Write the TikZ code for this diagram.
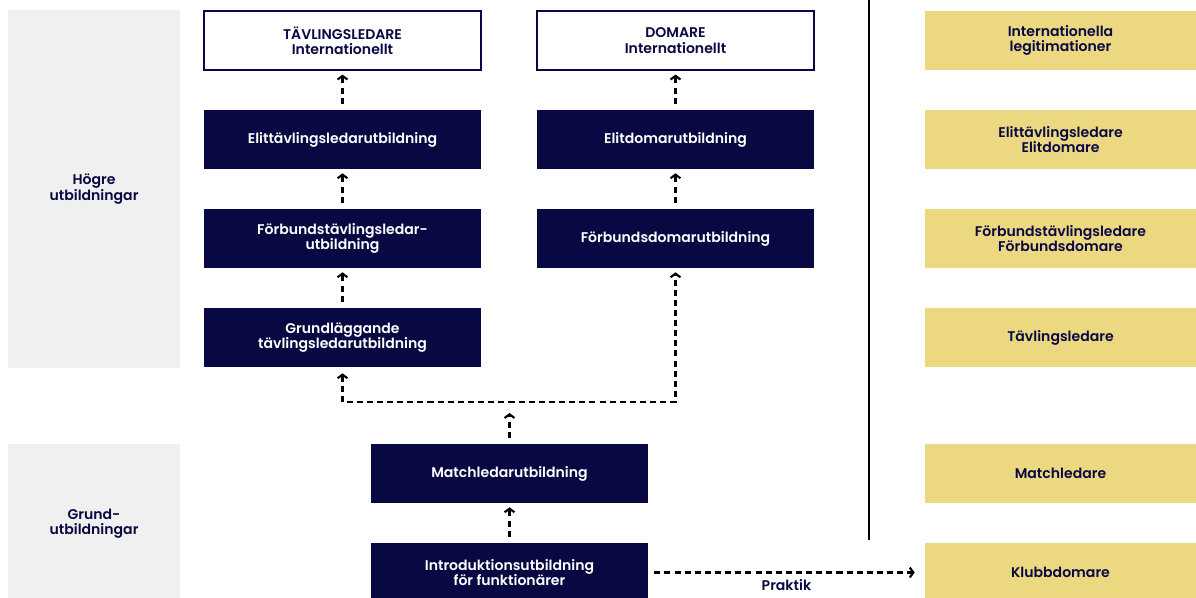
\documentclass[tikz,border=0pt]{standalone}
\usepackage{fontspec}
\setmainfont{Poppins}[BoldFont={Poppins SemiBold}]
\usetikzlibrary{arrows.meta}
\definecolor{navy}{RGB}{8,9,66}
\definecolor{sand}{RGB}{236,216,128}
\definecolor{panel}{RGB}{240,240,240}

\begin{document}
\begin{tikzpicture}
    \tikzset{
      every node/.style={font=\bfseries\fontsize{10}{10.8}\selectfont, align=center},
      course/.style={rectangle, fill=navy, text=white, minimum width=6.925cm, minimum height=1.475cm, node distance=2.475cm},
      goal/.style={course, draw=navy, fill=white, text=navy, line width=0.8pt},
      licence/.style={rectangle, fill=sand, text=navy, minimum width=6.775cm, minimum height=1.475cm, node distance=2.475cm},
      level/.style={rectangle, fill=panel, text=navy, minimum width=4.3cm},
      line/.style={draw, line width=1.5pt, dash pattern=on 4.3pt off 2.9pt, -{Straight Barb[length=2.6pt,width=7pt]}, shorten >=0.1cm, shorten <=0.15cm}
    }
    \useasboundingbox (0,0) rectangle (29.9,-14.95);
    \node [level, minimum height=8.95cm] (higher) at (2.35,-4.725) {Högre\\utbildningar};
    \node [level, minimum height=3.975cm] (basic) at (2.35,-13.0875) {Grund-\\utbildningar};

    \node [goal] (intTL) at (8.5625,-1.0125) {TÄVLINGSLEDARE\\Internationellt};
    \node [course, below of = intTL] (eliteTL) {Elittävlingsledarutbildning};
    \node [course, below of = eliteTL] (fedTL) {Förbundstävlingsledar-\\utbildning};
    \node [course, below of = fedTL] (basicTL) {Grundläggande\\tävlingsledarutbildning};

    \node [goal] (intDom) at (16.8875,-1.0125) {DOMARE\\Internationellt};
    \node [course, below of = intDom] (eliteDom) {Elitdomarutbildning};
    \node [course, below of = eliteDom] (fedDom) {Förbundsdomarutbildning};

    \node [course] (match) at (12.7375,-11.8375) {Matchledarutbildning};
    \node [course, below of = match] (intro) {Introduktionsutbildning\\för funktionärer};

    \node [licence] (lic) at (26.5125,-1.0125) {Internationella\\legitimationer};
    \node [licence, below of = lic] (eliteLic) {Elittävlingsledare\\Elitdomare};
    \node [licence, below of = eliteLic] (fedLic) {Förbundstävlingsledare\\Förbundsdomare};
    \node [licence, below of = fedLic] (tlLic) {Tävlingsledare};
    \node [licence] (matchLic) at (26.5125,-11.8375) {Matchledare};
    \node [licence, below of = matchLic] (clubLic) {Klubbdomare};

    \draw [line width=1.4pt] (21.725,0) -- (21.725,-13.5);

    \foreach \from/\to in {eliteTL/intTL, fedTL/eliteTL, basicTL/fedTL, eliteDom/intDom, fedDom/eliteDom, intro/match}
      \path [line] (\from) -- (\to);
    \coordinate (split) at (12.7375,-10.05);
    \path [line, shorten >=0.275cm] (match) -- (split);
    \path [line, {Straight Barb[length=2.6pt,width=7pt]}-{Straight Barb[length=2.6pt,width=7pt]}] (basicTL) |- (split) -| (fedDom);
    \path [line, shorten >=0.25cm] (intro) -- node [midway, below=1pt, text=navy] {Praktik} (clubLic);
\end{tikzpicture}
\end{document}
